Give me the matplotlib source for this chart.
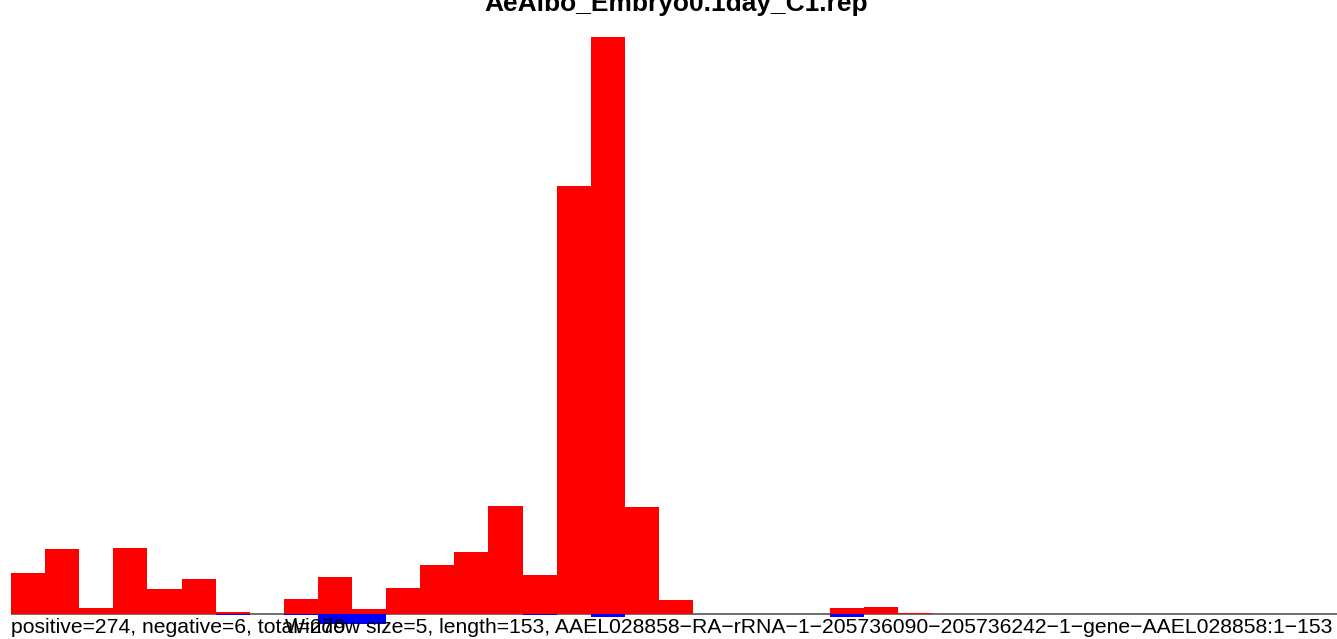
import matplotlib
matplotlib.use("Agg")
import matplotlib.pyplot as plt

# window start positions (window size 5, length 153)
win_start = [1 + 5 * i for i in range(31)]
# per-window counts
pos_vals = [6.5, 10.4, 1.0, 10.5, 4.0, 5.6, 0.3, 0.0, 2.4, 5.9,
            0.8, 4.1, 7.8, 9.9, 17.2, 6.2, 68.3, 92.0, 17.1, 2.2,
            0.0, 0.0, 0.0, 0.0, 1.0, 1.1, 0.2, 0.0, 0.0, 0.0, 0.0]
neg_vals = [0.0, 0.0, 0.0, 0.0, 0.0, 0.0, 0.2, 0.0, 0.2, 1.6,
            1.6, 0.0, 0.0, 0.0, 0.0, 0.2, 0.0, 0.5, 0.0, 0.0,
            0.0, 0.0, 0.0, 0.0, 0.5, 0.0, 0.0, 0.0, 0.0, 0.0, 0.0]

title = "AeAlbo_Embryo0.1day_C1.rep"
info_left = "positive=274, negative=6, total=279"
info_right = ("Window size=5, length=153, "
              "AAEL028858\u2212RA\u2212rRNA\u22121\u2212205736090\u2212205736242"
              "\u22121\u2212gene\u2212AAEL028858:1\u2212153")

plt.rcParams['font.family'] = ['Liberation Sans', 'DejaVu Sans']

fig = plt.figure(figsize=(13.37, 6.39), dpi=100)
ax = fig.add_axes([0, 0, 1, 1])
ax.axis("off")

ax.hlines(0, 1, 200, color="#555555", linewidth=1.2, zorder=1)
ax.bar(win_start, pos_vals, width=5, align="edge", color="#ff0000", linewidth=0, zorder=2)
ax.bar(win_start, [-v for v in neg_vals], width=5, align="edge", color="#0000ff", linewidth=0, zorder=2)

ax.set_xlim(-0.61, 195.4)
ax.set_ylim(-3.99, 97.9)

fig.text(676 / 1337, 1 - 11 / 639, title, ha="center", va="baseline",
         fontsize=19, fontweight="bold")
fig.text(11 / 1337, 1 - 633 / 639, info_left, ha="left", va="baseline", fontsize=15.2)
fig.text(285 / 1337, 1 - 633 / 639, info_right, ha="left", va="baseline", fontsize=15.2)

fig.savefig("out.png", dpi=100)
